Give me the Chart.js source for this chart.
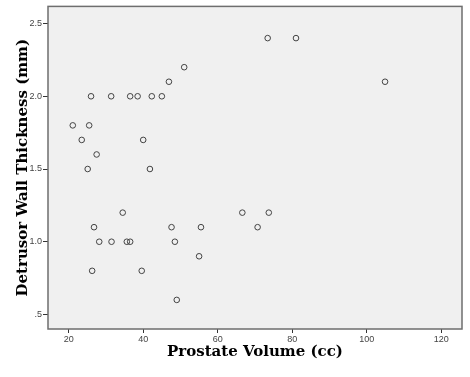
<!DOCTYPE html>
<html>
<head>
<meta charset="utf-8">
<script src="https://cdn.jsdelivr.net/npm/chart.js@4"></script>
<style>
  html, body { margin: 0; padding: 0; background: #ffffff; }
  #wrap { width: 470px; height: 377px; }
</style>
</head>
<body>
<div id="wrap"><canvas id="scatter"></canvas></div>
<script>
// Prostate volume (cc) and detrusor wall thickness (mm), one entry per patient
const prostateVolume = [
  26.0, 31.4, 36.5, 38.5, 42.3, 45.0,
  21.1, 25.5, 23.5, 40.0, 27.5, 25.1, 41.8,
  51.0, 46.9, 73.4, 81.0, 104.9,
  34.5, 66.6, 73.7,
  26.8, 47.6, 55.5, 70.7,
  28.2, 31.5, 35.6, 36.5, 48.5,
  26.3, 39.6, 55.0, 49.0
];
const wallThickness = [
  2.0, 2.0, 2.0, 2.0, 2.0, 2.0,
  1.8, 1.8, 1.7, 1.7, 1.6, 1.5, 1.5,
  2.2, 2.1, 2.4, 2.4, 2.1,
  1.2, 1.2, 1.2,
  1.1, 1.1, 1.1, 1.1,
  1.0, 1.0, 1.0, 1.0, 1.0,
  0.8, 0.8, 0.9, 0.6
];
const xTicks = [20, 40, 60, 80, 100, 120];
const yTicks = [0.5, 1.0, 1.5, 2.0, 2.5];
const yTickLabels = [".5", "1.0", "1.5", "2.0", "2.5"];

const points = prostateVolume.map((v, i) => ({ x: v, y: wallThickness[i] }));

// Grey plot panel with a frame, like the SPSS output
const plotFrame = {
  id: "plotFrame",
  beforeDraw(chart) {
    const { ctx, chartArea: a } = chart;
    ctx.save();
    ctx.fillStyle = "#f0f0f0";
    ctx.fillRect(a.left, a.top, a.right - a.left, a.bottom - a.top);
    ctx.restore();
  },
  afterDatasetsDraw(chart) {
    const { ctx, chartArea: a } = chart;
    ctx.save();
    ctx.strokeStyle = "#6e6e6e";
    ctx.lineWidth = 1.5;
    ctx.strokeRect(a.left, a.top, a.right - a.left, a.bottom - a.top);
    ctx.restore();
  }
};

const titleFont = { family: "'DejaVu Serif'", size: 15, weight: "bold" };
const tickFont = { family: "'Liberation Sans', Arial, sans-serif", size: 9 };

new Chart(document.getElementById("scatter"), {
  type: "scatter",
  data: {
    datasets: [{
      data: points,
      pointStyle: "circle",
      pointRadius: 2.8,
      pointBorderWidth: 1,
      pointBorderColor: "#444444",
      pointBackgroundColor: "rgba(0,0,0,0)"
    }]
  },
  options: {
    responsive: true,
    maintainAspectRatio: false,
    animation: false,
    layout: { padding: { top: 6, right: 8, left: 0, bottom: 0 } },
    plugins: {
      legend: { display: false },
      tooltip: { enabled: false }
    },
    scales: {
      x: {
        type: "linear",
        min: 14.45,
        max: 125.55,
        afterBuildTicks: (scale) => {
          scale.ticks = xTicks.map((v) => ({ value: v }));
        },
        afterFit: (scale) => { scale.height = 48; },
        ticks: {
          font: tickFont,
          color: "#444444",
          padding: 1,
          maxRotation: 0,
          callback: (value) => String(value)
        },
        grid: {
          drawOnChartArea: false,
          tickLength: 4,
          color: "#333333"
        },
        border: { display: false },
        title: {
          display: true,
          text: "Prostate Volume (cc)",
          font: titleFont,
          color: "#000000",
          padding: { top: 0, bottom: 16 }
        }
      },
      y: {
        type: "linear",
        min: 0.4,
        max: 2.618,
        afterBuildTicks: (scale) => {
          scale.ticks = yTicks.map((v) => ({ value: v }));
        },
        afterFit: (scale) => { scale.width = 48; },
        ticks: {
          font: tickFont,
          color: "#444444",
          padding: 1,
          callback: (value) => yTickLabels[yTicks.indexOf(value)]
        },
        grid: {
          drawOnChartArea: false,
          tickLength: 5,
          color: "#333333"
        },
        border: { display: false },
        title: {
          display: true,
          text: "Detrusor Wall Thickness (mm)",
          font: titleFont,
          color: "#000000",
          padding: { top: 14, bottom: 0 }
        }
      }
    }
  },
  plugins: [plotFrame]
});
</script>
</body>
</html>
